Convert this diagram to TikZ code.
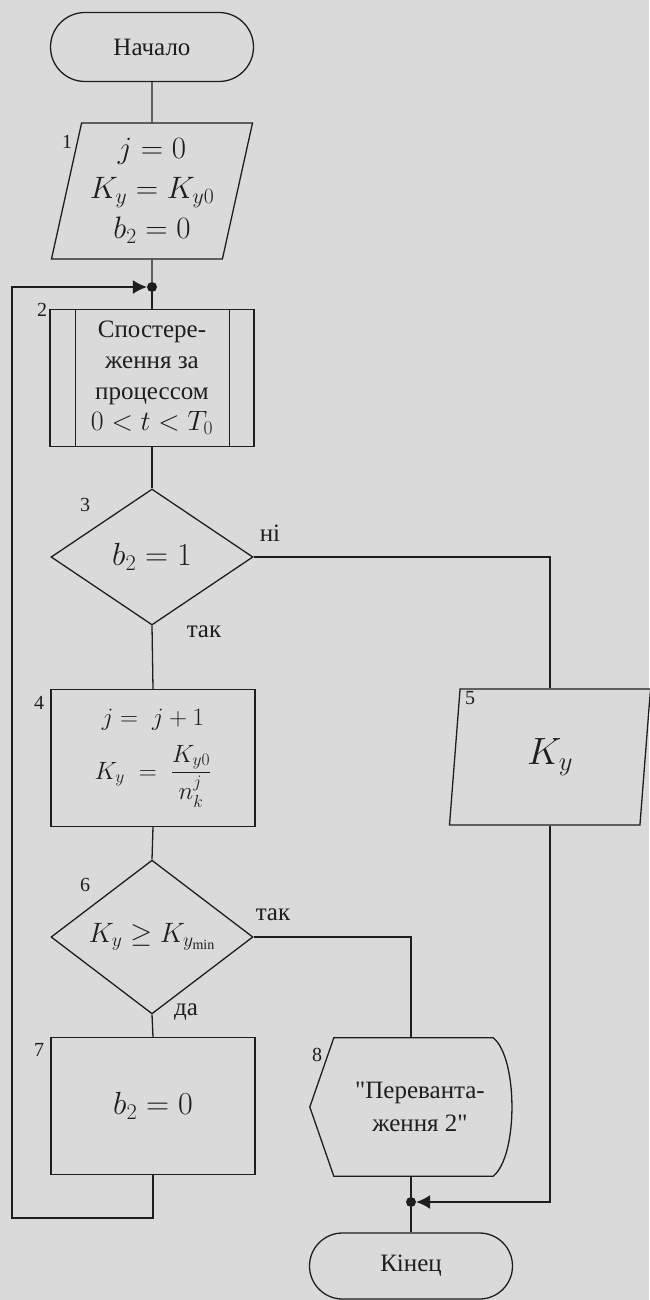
\RequirePackage{fix-cm}
\documentclass[tikz,border=0pt]{standalone}
\usepackage{fontspec}
\setmainfont{Liberation Serif}[Ligatures=TeXOff]
\usepackage{amsmath}
\usetikzlibrary{positioning, shapes.geometric, shapes.misc, arrows.meta}
\definecolor{paper}{RGB}{218,218,218}
\definecolor{ink}{RGB}{30,30,30}

\begin{document}
\begin{tikzpicture}[
    x=1pt, y=-1pt,
    every node/.style={text=ink},
    base/.style={draw=ink, line width=1.3pt, inner sep=0pt, align=center, font=\fontsize{25}{31}\selectfont},
    term/.style={base, rounded rectangle, minimum width=203pt, minimum height=69pt},
    io/.style={base, trapezium, trapezium left angle=74, trapezium right angle=106, trapezium stretches body, minimum width=201pt, minimum height=136pt},
    proc/.style={base, rectangle, minimum width=204pt, minimum height=137pt},
    decision/.style={base, diamond, minimum width=202pt, minimum height=136pt},
    disp/.style={inner sep=0pt, minimum width=202pt, minimum height=138pt, align=center, font=\fontsize{25}{33}\selectfont},
    num/.style={inner sep=0pt, font=\fontsize{20}{24}\selectfont},
    answer/.style={inner sep=0pt, font=\fontsize{25}{30}\selectfont},
    junction/.style={circle, fill=ink, minimum size=10pt, inner sep=0pt},
    connection/.style={draw=ink, line width=1.3pt},
    arrow/.style={connection, -{Latex[length=14pt,width=14pt]}}
]

% Page
\fill[paper] (0,0) rectangle (649,1300);
\useasboundingbox (0,0) rectangle (649,1300);

% Blocks
\node[term] (start) at (152,47) {Начало};
\node[io, font=\fontsize{31}{40}\selectfont] (b1) at (152,191) {$j=0$\\$K_y=K_{y0}$\\$b_2=0$};
\node[junction] (j1) at (152,287) {};
\node[proc, font=\fontsize{25}{31}\selectfont] (b2) at (152,378) {Спостере-\\ження за\\процессом\\{\fontsize{28}{31}\selectfont$0<t<T_0$}};
\node[decision, font=\fontsize{32}{38}\selectfont] (d3) at (152,557) {$b_2=1$};
\node[proc, font=\fontsize{25}{30}\selectfont] (b4) at (153,758) {$j=\;j+1$\\[14pt]$K_y\;=\;\dfrac{K_{y0}}{n_k^j}$};
\node[io, font=\fontsize{38}{44}\selectfont] (b5) at (550,757) {$K_y$};
\node[decision, font=\fontsize{28}{34}\selectfont] (d6) at (152,937) {$K_y\geq K_{y_{\min}}$};
\node[proc, font=\fontsize{32}{38}\selectfont] (b7) at (153,1106) {$b_2=0$};
\node[disp] (b8) at (411,1107) {\hspace*{18pt}"Переванта-\\\hspace*{18pt}ження 2"};
\node[junction] (j2) at (411,1202) {};
\node[term, minimum height=66pt] (end) at (411,1266) {Кінец};
\coordinate (lp) at (12,1218);

% Side lines of block 2
\draw[connection] ([xshift=26pt]b2.north west) -- ([xshift=26pt]b2.south west);
\draw[connection] ([xshift=-25pt]b2.north east) -- ([xshift=-25pt]b2.south east);

% Display outline of block 8
\draw[connection] (b8.west) -- ([xshift=24pt]b8.north west) -- ([xshift=-19pt]b8.north east)
    .. controls ([xshift=6pt,yshift=-20pt]b8.north east) and ([xshift=6pt,yshift=20pt]b8.south east) .. ([xshift=-19pt]b8.south east)
    -- ([xshift=24pt]b8.south west) -- cycle;

% Block numbers
\node[num] (n1) at (67,142) {1};
\node[num] (n2) at (42,310) {2};
\node[num] (n3) at (85,505) {3};
\node[num] (n4) at (39,703) {4};
\node[num] (n5) at (470,698) {5};
\node[num] (n6) at (85,885) {6};
\node[num] (n7) at (39,1050) {7};
\node[num] (n8) at (317,1055) {8};

% Branch labels
\node[answer] (no3) at (270,533) {ні};
\node[answer] (yes3) at (204,632) {так};
\node[answer] (yes6) at (273,915) {так};
\node[answer] (da6) at (186,1012) {да};

% Connections
\draw[connection] (start.south) -- (b1.north);
\draw[connection] (b1.south) -- (j1);
\draw[connection] (j1) -- (b2.north);
\draw[connection] (b2.south) -- (d3.north);
\draw[connection] (d3.south) -- (b4.north);
\draw[connection] (d3.east) -| (b5.north);
\draw[connection] (b4.south) -- (d6.north);
\draw[connection] (d6.south) -- (b7.north);
\draw[connection] (d6.east) -| (b8.north);
\draw[arrow] (b7.south) |- (lp) |- (j1);
\draw[connection] (b8.south) -- (j2);
\draw[arrow] (b5.south) |- (j2);
\draw[connection] (j2) -- (end.north);

\end{tikzpicture}
\end{document}
